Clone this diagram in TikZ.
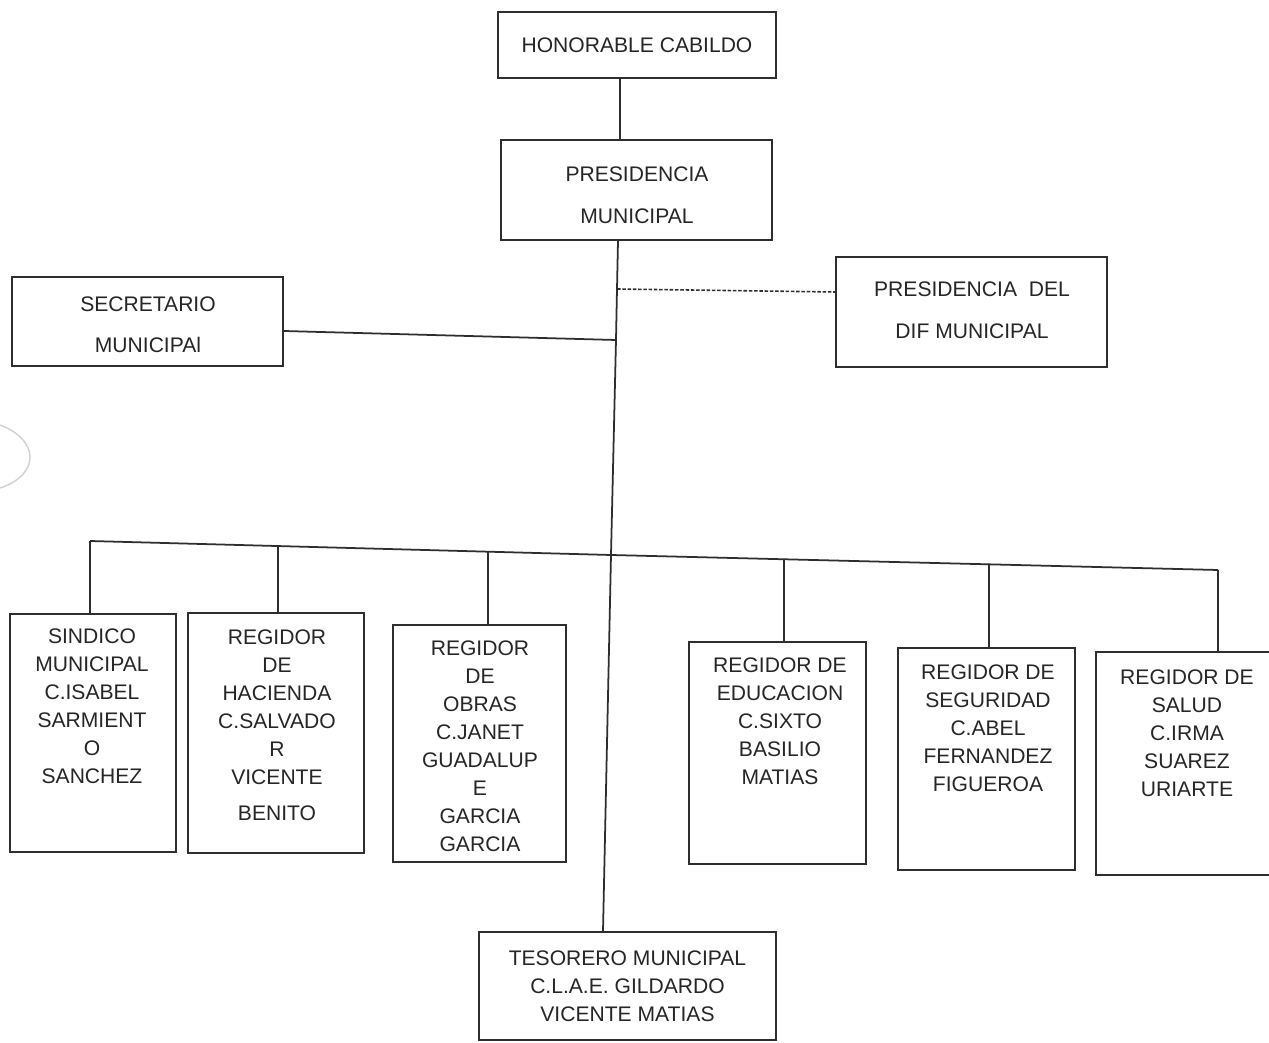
\documentclass[tikz,border=0pt]{standalone}
\usepackage{fontspec}
\setmainfont{Liberation Sans}
\definecolor{ink}{HTML}{2E2E2E}
\definecolor{txtc}{HTML}{262626}
\begin{document}
\begin{tikzpicture}[x=0.02cm,y=-0.02cm,
  box/.style={draw=ink,line width=1pt,rectangle,inner sep=0pt},
  txt/.style={text=txtc,align=center,inner sep=0pt,font=\fontsize{12pt}{15.9pt}\selectfont},
  conn/.style={draw=ink,line width=1pt},
  dconn/.style={draw=ink,line width=0.9pt,dash pattern=on 2pt off 1pt}]
\useasboundingbox (0,0) rectangle (1269,1043);
\clip (0,0) rectangle (1269,1043);
\fill[white] (0,0) rectangle (1269,1043);
% faint scan mark
\draw[black!18,line width=0.8pt] (0,425) .. controls (40,440) and (40,475) .. (0,488);
% top boxes
\node[box,txt,minimum width=5.56cm,minimum height=1.32cm] (hon) at (637,45) {HONORABLE CABILDO};
\node[box,minimum width=5.42cm,minimum height=2.0cm] (pres) at (636.5,190) {};
\node[txt] (pres-t) at (637,195) {PRESIDENCIA\\[7.8pt]MUNICIPAL};
\node[box,minimum width=5.42cm,minimum height=1.78cm] (sec) at (147.5,321.5) {};
\node[txt] (sec-t) at (148,325) {SECRETARIO\\[7.3pt]MUNICIPAl};
\node[box,minimum width=5.42cm,minimum height=2.2cm] (dif) at (971.5,312) {};
\node[txt] (dif-t) at (972,310) {PRESIDENCIA\ \ DEL\\[7.8pt]DIF MUNICIPAL};
% bottom boxes
\node[box,minimum width=3.32cm,minimum height=4.76cm] (sin) at (93,733) {};
\node[box,minimum width=3.52cm,minimum height=4.8cm] (hac) at (276,733) {};
\node[box,minimum width=3.46cm,minimum height=4.74cm] (obr) at (479.5,743.5) {};
\node[box,minimum width=3.54cm,minimum height=4.44cm] (edu) at (777.5,753) {};
\node[box,minimum width=3.54cm,minimum height=4.44cm] (seg) at (986.5,759) {};
\node[box,minimum width=3.68cm,minimum height=4.46cm] (sal) at (1188,763.5) {};
\node[box,txt,minimum width=5.94cm,minimum height=2.16cm] (tes) at (627.5,986) {TESORERO MUNICIPAL\\C.L.A.E. GILDARDO\\VICENTE MATIAS};
% texts of bottom boxes
\node[txt,anchor=north] (sin-t) at (92,628.5) {SINDICO\\MUNICIPAL\\C.ISABEL\\SARMIENT\\O\\SANCHEZ};
\node[txt,anchor=north] (hac-t) at (277,629.5) {REGIDOR\\DE\\HACIENDA\\C.SALVADO\\R\\VICENTE\\[4.5pt]BENITO};
\node[txt,anchor=north] (obr-t) at (480,640.5) {REGIDOR\\DE\\OBRAS\\C.JANET\\GUADALUP\\E\\GARCIA\\GARCIA};
\node[txt,anchor=north] (edu-t) at (780,657.5) {REGIDOR DE\\EDUCACION\\C.SIXTO\\BASILIO\\MATIAS};
\node[txt,anchor=north] (seg-t) at (988,664.5) {REGIDOR DE\\SEGURIDAD\\C.ABEL\\FERNANDEZ\\FIGUEROA};
\node[txt,anchor=north] (sal-t) at (1187,669.5) {REGIDOR DE\\SALUD\\C.IRMA\\SUAREZ\\URIARTE};
% coordinates
\coordinate (t0) at (620,0);
\coordinate (tA) at (618,0);
\coordinate (tB) at (603,0);
\coordinate (j1) at (617,289);
\coordinate (j2) at (616,340);
\coordinate (j3) at (611,555);
\coordinate (b1) at (90,541);
\coordinate (b2) at (278,546);
\coordinate (b3) at (488,552);
\coordinate (b4) at (784,559);
\coordinate (b5) at (989,564);
\coordinate (b6) at (1218,570);
% connectors
\draw[conn] (hon.south -| t0) -- (pres.north -| t0);
\draw[conn] (pres.south -| tA) -- (j1) -- (j2) -- (j3) -- (tes.north -| tB);
\draw[conn] ([yshift=-0.19cm]sec.east) -- (j2);
\draw[dconn] (j1) -- ([yshift=0.4cm]dif.west);
\draw[conn] (b1) -- (j3) -- (b6);
\draw[conn] (b1) -- (b1 |- sin.north);
\draw[conn] (b2) -- (b2 |- hac.north);
\draw[conn] (b3) -- (b3 |- obr.north);
\draw[conn] (b4) -- (b4 |- edu.north);
\draw[conn] (b5) -- (b5 |- seg.north);
\draw[conn] (b6) -- (b6 |- sal.north);
\end{tikzpicture}
\end{document}
